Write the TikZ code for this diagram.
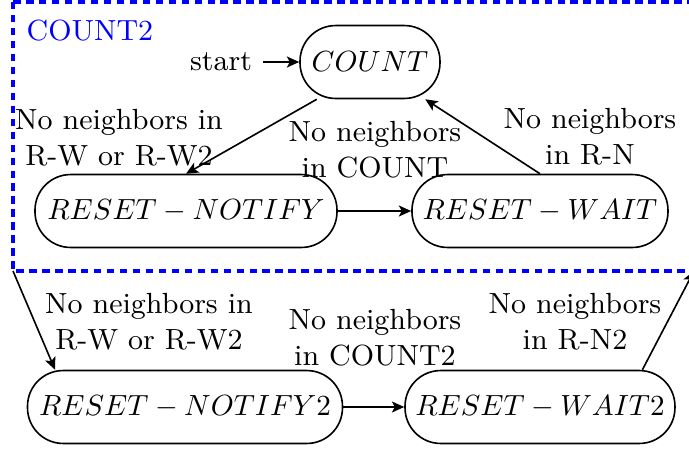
\documentclass[tikz,border=0pt]{standalone}
\usetikzlibrary{arrows.meta}
\newcommand\mtxt[1]{\scalebox{0.9}{$#1$}}
\begin{document}
\begin{tikzpicture}[x=0.3086pt,y=-0.3086pt,
  state/.style={draw,line width=0.5pt,rectangle,rounded corners=11pt,minimum height=22.5pt,inner xsep=1pt,inner ysep=0pt},
  lbl/.style={font=\small,align=center,inner sep=0pt},
  conn/.style={line width=0.5pt,-{Stealth[length=3.8pt,width=3.4pt,inset=0.9pt]}},
  box/.style={draw=blue,line width=1.2pt,dash pattern=on 2.3pt off 1.7pt}]
\useasboundingbox (0,0) rectangle (689,450);
% group box
\coordinate (boxNW) at (13,2);
\coordinate (boxSE) at (694,271);
\coordinate (boxSW) at (13,271);
\draw[box] (boxNW) rectangle (boxSE);
\node[font=\small,text=blue,anchor=west,inner sep=0pt] (grp) at (26,31) {COUNT2};
% states
\node[state,minimum width=43.2pt] (count) at (370,62) {\mtxt{COUNT}};
\node[state,minimum width=93.2pt] (rn) at (186,211) {\mtxt{RESET-NOTIFY}};
\node[state,minimum width=79pt] (rw) at (540,211) {\mtxt{RESET-WAIT}};
\node[state,minimum width=97.2pt] (rn2) at (185,407) {\mtxt{RESET-NOTIFY2}};
\node[state,minimum width=83.3pt] (rw2) at (540,407) {\mtxt{RESET-WAIT2}};
\node[font=\small] (start) at (221,62) {start};
% labels
\node[lbl] (l1) at (119,138) {No neighbors in\\R-W or R-W2};
\node[lbl] (l2) at (375,150) {No neighbors\\in COUNT};
\node[lbl] (l3) at (590,137) {No neighbors\\in R-N};
\node[lbl] (l4) at (149,322) {No neighbors in\\R-W or R-W2};
\node[lbl] (l5) at (375,338) {No neighbors\\in COUNT2};
\node[lbl] (l6) at (575,322) {No neighbors\\in R-N2};
% connectors
\draw[conn] (start) -- (count);
\draw[conn] (count.215) -- (rn.north);
\draw[conn] (rn) -- (rw);
\draw[conn] (rw.north) -- (count.326);
\draw[conn] (boxSW) -- (rn2.164);
\draw[conn] (rn2) -- (rw2);
\draw[conn] (rw2.20) -- (boxSE);
\end{tikzpicture}
\end{document}
